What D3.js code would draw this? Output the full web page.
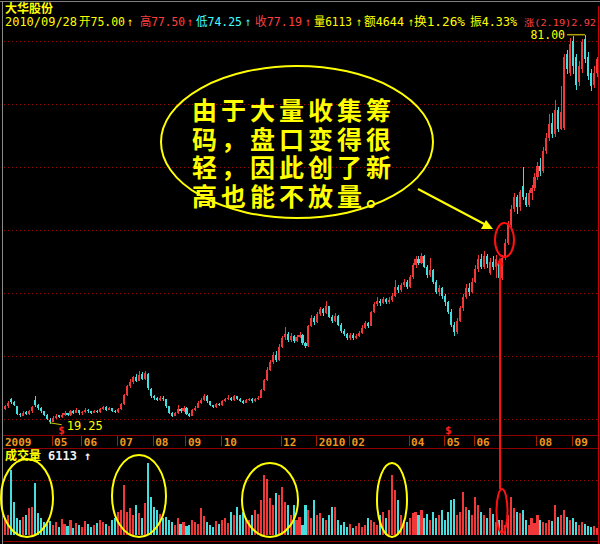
<!DOCTYPE html>
<html><head><meta charset="utf-8">
<script src="https://cdn.jsdelivr.net/npm/d3@7"></script>
<style>html,body{margin:0;padding:0;background:#000;overflow:hidden}</style>
</head><body>
<svg id="c" width="600" height="544" style="display:block;background:#000"></svg>
<script>
const opens=[21.6,22.0,23.2,22.7,22.0,20.8,20.5,21.1,20.8,21.2,
23.0,22.2,21.7,21.2,20.6,19.9,19.6,20.1,20.6,20.3,
20.7,20.9,20.6,21.2,21.0,21.4,20.9,21.1,21.5,21.2,
21.0,21.3,21.1,21.6,21.9,21.5,21.7,21.3,21.1,21.6,
22.4,23.8,25.2,25.8,26.6,26.1,27.2,26.4,27.2,24.8,
23.6,23.3,23.0,23.4,23.1,22.0,21.0,20.5,20.9,21.6,
21.2,21.8,20.8,20.5,21.4,21.8,22.6,23.0,23.6,22.8,
22.2,21.9,22.4,22.2,22.8,23.1,23.4,23.0,23.6,23.2,
22.9,22.6,23.0,23.2,22.8,23.1,23.4,24.6,26.2,27.8,
29.0,30.2,29.4,31.5,33.0,33.5,32.6,33.2,32.4,33.0,
33.4,32.0,31.6,34.8,36.0,35.4,36.6,37.4,36.8,37.9,
36.2,35.6,36.4,35.0,34.0,33.5,32.8,33.4,32.9,33.2,
33.6,34.5,35.2,34.8,37.0,38.2,38.8,38.4,39.0,38.5,
38.9,39.6,41.0,40.4,41.2,41.8,41.0,42.5,44.4,45.4,
44.8,45.9,44.2,42.8,43.6,41.8,40.2,40.8,39.5,38.6,
37.0,35.0,33.8,35.6,37.6,39.4,40.8,40.2,41.8,43.8,
45.4,44.2,45.8,43.2,45.0,44.2,45.0,42.4,45.6,48.0,
50.8,53.4,55.2,53.6,57.0,55.2,54.0,55.8,56.6,58.4,
60.2,59.4,62.6,64.6,67.0,65.2,69.0,66.0,66.2,78.0,
75.0,80.0,77.5,73.5,75.5,80.3,77.5,75.0,73.0,75.00];
const closes=[22.0,22.6,22.7,22.2,20.8,20.6,21.0,20.8,21.3,21.9,
22.3,21.8,21.2,20.6,20.0,19.6,20.2,20.5,20.3,20.7,
20.9,20.6,21.2,21.0,21.4,20.9,21.1,21.5,21.2,21.0,
21.3,21.1,21.6,21.9,21.5,21.7,21.3,21.1,21.6,22.4,
23.8,25.2,25.8,26.6,26.1,27.0,26.4,27.3,25.0,23.6,
23.3,23.0,23.4,23.1,22.0,21.0,20.5,20.9,21.6,21.2,
21.8,20.8,20.5,21.4,21.8,22.6,23.0,23.6,22.8,22.2,
21.9,22.4,22.2,22.8,23.1,23.4,23.0,23.6,23.2,22.9,
22.6,23.0,23.2,22.8,23.1,23.4,24.6,26.2,27.8,29.0,
30.2,29.4,31.5,32.8,33.5,32.6,33.2,32.4,33.0,33.4,
32.0,31.6,34.8,36.0,35.4,36.6,37.4,36.8,37.9,36.2,
35.6,36.4,35.0,34.0,33.5,32.8,33.4,32.9,33.2,33.6,
34.5,35.2,34.8,37.0,38.2,38.8,38.4,39.0,38.5,38.9,
39.6,41.0,40.4,41.2,41.8,41.0,42.5,44.4,45.4,44.8,
45.9,44.2,42.8,43.6,41.8,40.2,40.8,39.5,38.6,37.0,
35.0,33.8,35.6,37.6,39.4,40.8,40.2,41.8,43.8,45.4,
44.2,45.8,44.6,45.0,44.2,45.4,42.4,45.6,48.0,50.8,
53.4,55.2,53.6,56.0,55.2,54.0,55.8,56.6,58.4,60.2,
59.4,62.6,64.6,66.8,65.2,69.0,66.0,68.8,77.5,75.5,
79.6,76.0,73.0,76.0,79.8,77.2,74.5,72.8,75.0,77.19];
const highs=[22.3,22.9,23.4,22.8,22.1,21.0,21.2,21.3,21.5,22.1,
23.6,22.4,21.9,21.3,20.8,20.1,20.4,20.8,20.7,20.9,
21.2,21.0,21.5,21.4,21.8,21.5,21.3,21.7,21.6,21.3,
21.5,21.4,21.8,22.1,22.0,21.9,21.8,21.4,21.8,22.6,
24.0,25.4,26.3,26.9,27.2,27.6,27.5,27.6,27.3,24.9,
23.8,23.5,23.6,23.6,23.2,22.1,21.1,21.1,22.2,21.8,
22.0,21.9,20.9,21.6,22.0,22.8,23.3,24.0,23.8,22.9,
22.3,22.6,22.5,23.0,23.3,23.8,23.5,23.8,23.7,23.3,
23.0,23.2,23.4,23.3,23.3,23.6,24.8,26.4,28.2,29.4,
30.6,30.8,31.9,33.2,34.6,33.8,33.6,33.4,33.4,33.8,
33.5,32.3,35.0,36.5,36.3,37.0,37.8,37.6,38.7,38.0,
36.5,36.8,36.5,35.2,34.3,33.7,33.7,33.6,33.5,34.0,
34.9,35.6,35.4,37.2,38.6,39.3,39.0,39.4,39.2,39.3,
40.0,42.0,41.3,41.6,42.2,42.0,42.8,44.8,45.9,45.8,
46.3,46.0,44.4,45.6,43.8,42.0,41.2,41.0,39.8,38.8,
37.4,35.4,36.0,38.0,39.8,41.4,41.6,42.4,44.4,46.0,
46.2,46.6,46.2,45.6,45.8,46.0,45.4,46.0,48.6,51.4,
54.0,55.9,55.6,56.4,60.0,55.8,56.4,57.2,59.0,60.8,
61.4,63.2,65.4,68.4,68.6,70.6,69.6,72.8,78.0,78.5,
80.4,80.8,78.0,76.8,80.3,81.0,78.2,75.5,76.0,77.50];
const lows=[21.4,21.8,22.4,22.0,20.6,20.3,20.4,20.6,20.7,21.0,
21.9,21.5,21.0,20.4,19.8,19.25,19.5,20.0,20.1,20.2,
20.5,20.4,20.5,20.8,20.9,20.7,20.7,21.0,21.0,20.8,
20.9,20.9,21.0,21.5,21.3,21.4,21.1,20.9,21.0,21.5,
22.3,23.6,24.9,25.5,25.9,26.0,26.2,26.2,24.6,23.4,
23.0,22.8,22.9,22.9,21.8,20.8,20.3,20.4,20.8,21.0,
21.1,20.6,20.3,20.4,21.2,21.7,22.4,22.9,22.6,22.0,
21.7,21.8,22.0,22.1,22.7,23.0,22.8,22.9,23.0,22.7,
22.4,22.5,22.9,22.6,22.7,23.0,23.3,24.5,26.0,27.6,
28.8,29.0,29.2,31.2,32.6,32.2,32.3,32.0,32.2,32.8,
31.8,31.2,31.5,34.6,35.0,35.2,36.4,36.4,36.6,36.0,
35.2,35.4,34.8,33.7,33.2,32.5,32.6,32.6,32.7,33.0,
33.5,34.3,34.5,34.7,36.8,38.0,38.0,38.2,38.2,38.2,
38.6,39.4,40.0,40.2,41.0,40.6,40.8,42.3,44.0,44.5,
44.6,43.9,42.4,42.6,41.5,39.8,39.6,39.0,38.0,36.6,
34.6,33.2,33.5,35.4,37.2,39.0,39.6,40.0,41.6,43.4,
43.8,43.8,44.0,42.8,43.6,42.4,41.6,42.0,45.2,47.6,
50.4,52.8,52.6,53.0,54.8,53.6,53.6,54.8,56.2,58.0,
58.6,59.0,62.0,64.2,64.6,64.8,65.6,65.8,65.8,74.8,
74.5,74.8,72.2,72.8,75.0,76.5,73.8,72.0,72.5,74.25];
const volumes=[14700,17300,56000,28600,14700,13000,15600,17300,23400,24300,
45000,19000,14700,11300,9500,12100,8700,11300,6900,13900,
9500,7800,13000,6100,10400,8700,6900,12100,9500,6900,
8700,10400,13000,11300,9500,7800,13000,14700,19900,21700,
43400,19900,23400,17300,26000,19000,14700,27700,62400,33000,
24300,21700,18200,14700,15600,13000,11300,8700,14700,9500,
11300,7800,8700,13000,11300,9500,23400,16500,11300,8700,
6900,12100,9500,13000,14700,10400,19900,17300,24300,17300,
19900,14700,13000,17300,21700,18200,30300,52000,48500,32100,
26000,36400,34700,41600,28600,26000,17300,26000,13000,15600,
8700,26000,21700,14700,30300,17300,19000,14700,13000,17300,
24300,24300,13000,8700,11300,6900,9500,6100,7800,10400,
6900,8700,14700,13000,11300,8700,17300,19900,14700,21700,
52000,39000,30300,17300,13000,11300,14700,19000,19900,17300,
21700,14700,18200,13000,19900,14700,17300,21700,13000,19900,
30300,31200,17300,19900,37300,24300,21700,17300,33000,26000,
19900,17300,14700,23400,18200,11300,13000,13000,8700,17300,
33000,23400,19900,19000,21700,13000,8700,14700,10400,17300,
13000,11300,10400,13000,12100,26000,15600,17300,21700,15600,
13000,14700,11300,8700,11300,9500,7800,6900,7800,6113];
const dateTicks=[[0,"2009"],[16,"05"],[26,"06"],[38,"07"],[50,"08"],[61,"09"],[73,"10"],[93,"12"],
[105,"2010"],[116,"02"],[136,"04"],[148,"05"],[158,"06"],[179,"08"],[191,"09"]];
const priceGrid=[20,30,40,50,60,70,80];
const volGrid=[47700];
const stockName="大华股份";
// [text, left, width, colour, font size]
const headerSegs=[["2010/09/28",5,72,"#ffff00",12],["开75.00",79,46,"#ffff00",12],["↑",127,6,"#ffff00",12],
["高77.50",140,45,"#ff4040",12],["↑",187,6,"#ff4040",12],["低74.25",196,46,"#40ffff",12],["↑",245,6,"#40ffff",12],
["收77.19",255,47,"#ff4040",12],["↑",305,6,"#ff4040",12],["量6113",314,38,"#ffff00",12],["↑",356,6,"#ffff00",12],
["额4644",364,40,"#ffff00",12],["↑",408,6,"#ffff00",12],["换1.26%",414,51,"#ffff00",12],["振4.33%",470,47,"#ffff00",12],
["涨(2.19)2.92",524,72,"#ff4040",9.4]];
const volLabel="成交量", volValue="6113";
const calloutLines=["由于大量收集筹","码，盘口变得很","轻，因此创了新","高也能不放量。"];
const signalIdx=[19,149];
const focusIdx=166;

const svg=d3.select("#c");
const N=closes.length;
const RED="#f03838", CYAN="#44dede", YEL="#ffff00";
const x=d3.scaleBand().domain(d3.range(N)).range([4,598]).paddingInner(0.3).paddingOuter(0);
const bw=x.bandwidth();
const xc=i=>x(i)+bw/2;
const y=d3.scaleLinear().domain([20,80]).range([419,41]);
const yv=d3.scaleLinear().domain([0,65000]).range([535,460]);
const bars=d3.range(N).map(i=>({i,o:opens[i],h:highs[i],l:lows[i],c:closes[i],v:volumes[i]}));
const col=d=>d.c>=d.o?RED:CYAN;
const MONO="'DejaVu Sans Mono','Noto Sans CJK SC',monospace";
const CJK="'Noto Sans CJK SC','DejaVu Sans',sans-serif";
const CJK2="'Liberation Sans','Noto Sans CJK SC',sans-serif";

// frame
svg.append("line").attr("x1",0).attr("x2",600).attr("y1",1.5).attr("y2",1.5).attr("stroke","#808080");
svg.append("line").attr("x1",2.5).attr("x2",2.5).attr("y1",2).attr("y2",544).attr("stroke","#8a8a8a");
svg.append("line").attr("x1",598.5).attr("x2",598.5).attr("y1",6).attr("y2",544).attr("stroke","#d00000");
// price grid
svg.selectAll(".pg").data(priceGrid).join("line").attr("class","pg")
 .attr("x1",4).attr("x2",597).attr("y1",d=>Math.round(y(d))+0.5).attr("y2",d=>Math.round(y(d))+0.5)
 .attr("stroke","#a00000").attr("stroke-dasharray","1,3");
svg.selectAll(".vg").data(volGrid).join("line").attr("class","vg")
 .attr("x1",4).attr("x2",597).attr("y1",d=>Math.round(yv(d))+0.5).attr("y2",d=>Math.round(yv(d))+0.5)
 .attr("stroke","#a00000").attr("stroke-dasharray","1,3");
// date band
[435.5,448.5,541.5].forEach(v=>svg.append("line").attr("x1",3).attr("x2",598).attr("y1",v).attr("y2",v).attr("stroke","#900000"));
const dt=svg.append("g");
dt.selectAll("line").data(dateTicks.filter(d=>d[0]>0)).join("line")
 .attr("x1",d=>Math.round(x(d[0]))+0.5).attr("x2",d=>Math.round(x(d[0]))+0.5)
 .attr("y1",436).attr("y2",446).attr("stroke","#a02000");
dt.selectAll("text").data(dateTicks).join("text")
 .attr("x",d=>d[0]===0?5:x(d[0])+2.5).attr("y",445.5)
 .attr("font-family",MONO).attr("font-size",11).attr("font-weight","bold")
 .attr("fill","#f0961e").text(d=>d[1]);

// candles
const cg=svg.append("g").attr("shape-rendering","crispEdges");
cg.selectAll("line").data(bars).join("line")
 .attr("x1",d=>Math.round(xc(d.i))+0.5).attr("x2",d=>Math.round(xc(d.i))+0.5)
 .attr("y1",d=>y(d.h)).attr("y2",d=>y(d.l)).attr("stroke",col);
cg.selectAll("rect").data(bars).join("rect")
 .attr("x",d=>x(d.i)).attr("width",bw)
 .attr("y",d=>Math.min(y(d.o),y(d.c))).attr("height",d=>Math.max(1,Math.abs(y(d.o)-y(d.c))))
 .attr("fill",col);
// volume
svg.append("g").attr("shape-rendering","crispEdges").selectAll("rect").data(bars).join("rect")
 .attr("x",d=>x(d.i)).attr("width",bw).attr("y",d=>yv(d.v)).attr("height",d=>yv(0)-yv(d.v)).attr("fill",col);

// high/low markers
const hi=d3.maxIndex(highs), lo=d3.minIndex(lows);
svg.append("line").attr("x1",xc(hi)-18).attr("x2",xc(hi)).attr("y1",y(highs[hi])).attr("y2",y(highs[hi])).attr("stroke","#b0a000").attr("stroke-width",1.5);
svg.append("text").attr("x",xc(hi)-20).attr("y",y(highs[hi])+4.5).attr("text-anchor","end")
 .attr("font-family",MONO).attr("font-size",11.5).attr("fill",YEL).text(highs[hi].toFixed(2));
svg.append("line").attr("x1",xc(lo)).attr("x2",xc(lo)+12).attr("y1",y(lows[lo])-1).attr("y2",y(lows[lo])+1).attr("stroke","#d0c000").attr("stroke-width",1.2);
svg.append("text").attr("x",xc(lo)+17).attr("y",y(lows[lo])+6)
 .attr("font-family",MONO).attr("font-size",12).attr("fill",YEL).text(lows[lo].toFixed(2));
svg.selectAll(".sig").data(signalIdx).join("text").attr("class","sig")
 .attr("x",d=>xc(d)).attr("y",434).attr("text-anchor","middle")
 .attr("font-family",MONO).attr("font-size",11).attr("font-weight","bold").attr("fill","#ff2020").text("$");

// header
svg.append("text").attr("x",5).attr("y",12.5).attr("font-family",CJK).attr("font-size",12).attr("font-weight","bold").attr("fill",YEL).text(stockName);
svg.selectAll(".hd").data(headerSegs).join("text").attr("class","hd")
 .attr("x",d=>d[1]).attr("y",26).attr("textLength",d=>d[2]).attr("lengthAdjust","spacingAndGlyphs")
 .attr("font-family",MONO).attr("font-size",d=>d[4]).attr("fill",d=>d[3]).text(d=>d[0]);
svg.append("text").attr("x",5).attr("y",460).attr("font-family",CJK2).attr("font-size",12).attr("font-weight","bold").attr("fill",YEL).text(volLabel);
svg.append("text").attr("x",48).attr("y",460).attr("font-family",MONO).attr("font-size",12).attr("font-weight","bold").attr("fill","#f0f0f0").text(volValue+" ↑");

// callout
svg.append("ellipse").attr("cx",297).attr("cy",142).attr("rx",136).attr("ry",76).attr("fill","none").attr("stroke",YEL).attr("stroke-width",2);
svg.append("line").attr("x1",418).attr("y1",189).attr("x2",488).attr("y2",226).attr("stroke",YEL).attr("stroke-width",2);
svg.append("path").attr("d","M493,229 L481,229 L486,220 Z").attr("fill",YEL);
svg.selectAll(".cl").data(calloutLines).join("text").attr("class","cl")
 .attr("x",192).attr("y",(d,i)=>120+i*28.5).attr("font-family",CJK2).attr("font-size",25).attr("font-weight","bold")
 .attr("letter-spacing",4).attr("fill",YEL).text(d=>d);

// red focus
const fx=Math.round(xc(focusIdx))+1;
svg.append("ellipse").attr("cx",fx+4.5).attr("cy",240).attr("rx",9.5).attr("ry",17).attr("fill","none").attr("stroke","#ff1010").attr("stroke-width",2);
svg.append("line").attr("x1",fx).attr("x2",fx).attr("y1",259).attr("y2",489).attr("stroke","#ff1010").attr("stroke-width",2);
svg.append("path").attr("d",`M${fx-3},266 L${fx},259 L${fx+3},266`).attr("fill","none").attr("stroke","#ff1010").attr("stroke-width",1.5);
svg.append("ellipse").attr("cx",fx+2).attr("cy",511).attr("rx",5.5).attr("ry",22).attr("fill","none").attr("stroke","#ff1010").attr("stroke-width",2);
// volume circles
const vc=[[27,498,26,39],[139,496,27,41],[270,500,28,37],[392,500,15,37]];
svg.selectAll(".vc").data(vc).join("ellipse").attr("class","vc")
 .attr("cx",d=>d[0]).attr("cy",d=>d[1]).attr("rx",d=>d[2]).attr("ry",d=>d[3])
 .attr("fill","none").attr("stroke",YEL).attr("stroke-width",2);
</script>
</body></html>
